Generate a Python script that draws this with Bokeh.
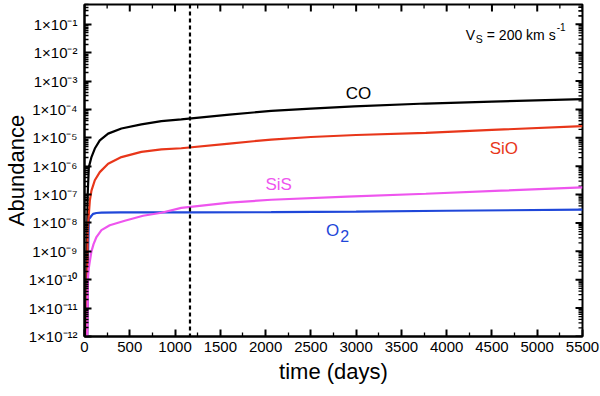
import math
from bokeh.plotting import figure
from bokeh.models import Range1d, FixedTicker, CustomJSTickFormatter, Span
from bokeh.core.properties import value
from bokeh.embed import file_html
from bokeh.resources import INLINE

FONT = "Liberation Sans"

# ---------------- data ----------------
time_co = [15, 35, 48, 77, 114, 169, 261, 408, 628, 849, 1069, 1600, 2062, 2500, 2977, 3770, 4500, 5500]
abund_co = [1e-12, 1e-7, 9.3e-7, 2.1e-6, 4.2e-6, 8.1e-6, 1.41e-5, 2.14e-5, 3.0e-5, 3.9e-5, 4.5e-5,
            6.6e-5, 8.9e-5, 1.07e-4, 1.29e-4, 1.62e-4, 1.9e-4, 2.3e-4]

time_sio = [28, 35, 48, 59, 77, 114, 169, 261, 408, 628, 849, 1069, 1600, 2062, 2500, 3000, 3770, 4500, 5500]
abund_sio = [1e-12, 5e-9, 2.1e-8, 6.2e-8, 1.38e-7, 3.2e-7, 6.2e-7, 1.23e-6, 2.1e-6, 3.2e-6, 3.9e-6,
             4.3e-6, 6.3e-6, 8.7e-6, 1.07e-5, 1.26e-5, 1.5e-5, 1.9e-5, 2.6e-5]

time_sis = [30, 33, 36, 40, 47, 59, 77, 100, 132, 187, 279, 445, 647, 849, 1069, 1600, 2062, 2900, 3770, 4600, 5500]
abund_sis = [1e-12, 3.5e-12, 3.2e-11, 1.3e-10, 2.5e-10, 4.5e-10, 1.0e-9, 1.8e-9, 3.2e-9, 5.6e-9, 8.3e-9,
             1.2e-8, 1.8e-8, 2.3e-8, 3.4e-8, 5.2e-8, 6.6e-8, 8.5e-8, 1.07e-7, 1.38e-7, 1.8e-7]

time_o2 = [30, 40, 48, 59, 77, 96, 132, 187, 400, 647, 1170, 2062, 3000, 4000, 5500]
abund_o2 = [1e-12, 1e-9, 1.4e-8, 1.5e-8, 1.8e-8, 2.1e-8, 2.25e-8, 2.3e-8, 2.35e-8, 2.35e-8,
            2.35e-8, 2.4e-8, 2.5e-8, 2.7e-8, 2.95e-8]

marker_time = 1165  # vertical dashed line

label_text = ["CO", "SiO", "SiS", "O"]
label_time = [3026, 4631, 2144, 2740]
label_abund = [3.6e-4, 4.2e-6, 2.3e-7, 5.6e-9]

x_ticks = list(range(0, 5501, 500))
x_minor = list(range(250, 5500, 500))
y_exps = list(range(-12, 0))
y_tick_labels = ["1×10⁻¹²", "1×10⁻¹¹", "1×10⁻¹⁰", "1×10⁻⁹", "1×10⁻⁸", "1×10⁻⁷",
                 "1×10⁻⁶", "1×10⁻⁵", "1×10⁻⁴", "1×10⁻³", "1×10⁻²", "1×10⁻¹"]

note_time = 4211
note_abund = 0.042

# ---------------- colours ----------------
C_CO = "#000000"
C_SIO = "#e8361a"
C_SIS = "#ee55ee"
C_O2 = "#1f47d9"

# ---------------- figure ----------------
X_LO, X_HI = 0, 5500
Y_LO, Y_HI = 1e-12, 0.5
W, H = 600, 396
B_LEFT, B_RIGHT, B_TOP, B_BOTTOM = 83, 18, 4, 60
FRAME_W = W - B_LEFT - B_RIGHT
FRAME_H = H - B_TOP - B_BOTTOM

p = figure(width=W, height=H, y_axis_type="log",
           x_range=Range1d(X_LO, X_HI), y_range=Range1d(Y_LO, Y_HI),
           output_backend="svg", toolbar_location=None,
           min_border_left=B_LEFT, min_border_right=B_RIGHT, min_border_top=B_TOP, min_border_bottom=B_BOTTOM)
p.grid.visible = False
p.outline_line_color = "black"
p.outline_line_width = 2
p.background_fill_color = "white"
p.border_fill_color = "white"

y_major = [10.0 ** e for e in y_exps]
y_minor = [m * 10.0 ** e for e in y_exps for m in range(2, 10)] + [0.2, 0.3, 0.4, 0.5]

MAJ, MIN = 7, 4
MAJ_W, MIN_W = 2, 1.3


def style(ax):
    ax.axis_line_width = 2
    ax.axis_line_color = "black"
    ax.major_tick_in = MAJ
    ax.major_tick_out = 0
    ax.minor_tick_in = MIN
    ax.minor_tick_out = 0
    ax.major_tick_line_width = MAJ_W
    ax.minor_tick_line_width = MIN_W
    ax.major_tick_line_color = "black"
    ax.minor_tick_line_color = "black"
    ax.major_label_text_font = FONT
    ax.major_label_text_color = "black"
    ax.axis_label_text_color = "black"


xa = p.xaxis[0]
xa.ticker = FixedTicker(ticks=x_ticks, minor_ticks=x_minor)
style(xa)
xa.major_label_text_font_size = "15px"
xa.major_label_standoff = 5
xa.axis_label = "time (days)"
xa.axis_label_text_font = FONT
xa.axis_label_text_font_size = "22px"
xa.axis_label_text_font_style = "normal"
xa.axis_label_standoff = 4

ya = p.yaxis[0]
ya.ticker = FixedTicker(ticks=y_major, minor_ticks=y_minor)
ya.formatter = CustomJSTickFormatter(args=dict(exps=y_exps, labels=y_tick_labels), code="""
const e = Math.round(Math.log10(tick));
const i = exps.indexOf(e);
return i >= 0 ? labels[i] : '';
""")
style(ya)
ya.major_label_text_font_size = "15px"
ya.major_label_standoff = 7
ya.axis_label = "Abundance"
ya.axis_label_text_font = FONT
ya.axis_label_text_font_size = "22px"
ya.axis_label_text_font_style = "normal"
ya.axis_label_standoff = -3

# ---------------- mirrored inward ticks on top and right sides (from the tick lists) ----------------
days_per_px = (X_HI - X_LO) / FRAME_W
px_per_decade = FRAME_H / math.log10(Y_HI / Y_LO)


def top_ticks(ticks, length, width):
    f = 10 ** (length / px_per_decade)
    n = len(ticks)
    p.segment(x0=ticks, y0=[Y_HI] * n, x1=ticks, y1=[Y_HI / f] * n, line_color="black", line_width=width)


def right_ticks(ticks, length, width):
    d = length * days_per_px
    n = len(ticks)
    p.segment(x0=[X_HI] * n, y0=ticks, x1=[X_HI - d] * n, y1=ticks, line_color="black", line_width=width)


top_ticks(x_ticks, MAJ, MAJ_W)
top_ticks(x_minor, MIN, MIN_W)
right_ticks(y_major, MAJ, MAJ_W)
right_ticks(y_minor, MIN, MIN_W)

# ---------------- curves ----------------
LW = 2.2
p.line(time_co, abund_co, line_color=C_CO, line_width=LW)
p.line(time_o2, abund_o2, line_color=C_O2, line_width=LW)
p.line(time_sio, abund_sio, line_color=C_SIO, line_width=LW)
p.line(time_sis, abund_sis, line_color=C_SIS, line_width=LW)

p.add_layout(Span(location=marker_time, dimension="height", line_color="black",
                  line_width=2.2, line_dash="4 3"))

# ---------------- curve labels ----------------
label_colors = [C_CO, C_SIO, C_SIS, C_O2]
p.text(x=label_time, y=label_abund, text=label_text, text_color=label_colors,
       text_font=value(FONT), text_font_size="17px", text_align="center", text_baseline="middle")
p.text(x=[label_time[3]], y=[label_abund[3]], text=["2"], text_color=C_O2,
       x_offset=12, y_offset=6,
       text_font=value(FONT), text_font_size="16px", text_align="center", text_baseline="middle")

# ---------------- V_S note ----------------
note_kw = dict(text_font=value(FONT), text_color="black", text_align="left", text_baseline="alphabetic")
p.text(x=[note_time], y=[note_abund], text=["V"], text_font_size="14px", **note_kw)
p.text(x=[note_time], y=[note_abund], text=["S"], text_font_size="10.5px", x_offset=10, y_offset=4, **note_kw)
p.text(x=[note_time], y=[note_abund], text=["= 200 km s"], text_font_size="14px", x_offset=21, **note_kw)
p.text(x=[note_time], y=[note_abund], text=["-1"], text_font_size="10px", x_offset=91, y_offset=-8, **note_kw)

open("out.html", "w").write(file_html(p, INLINE))
